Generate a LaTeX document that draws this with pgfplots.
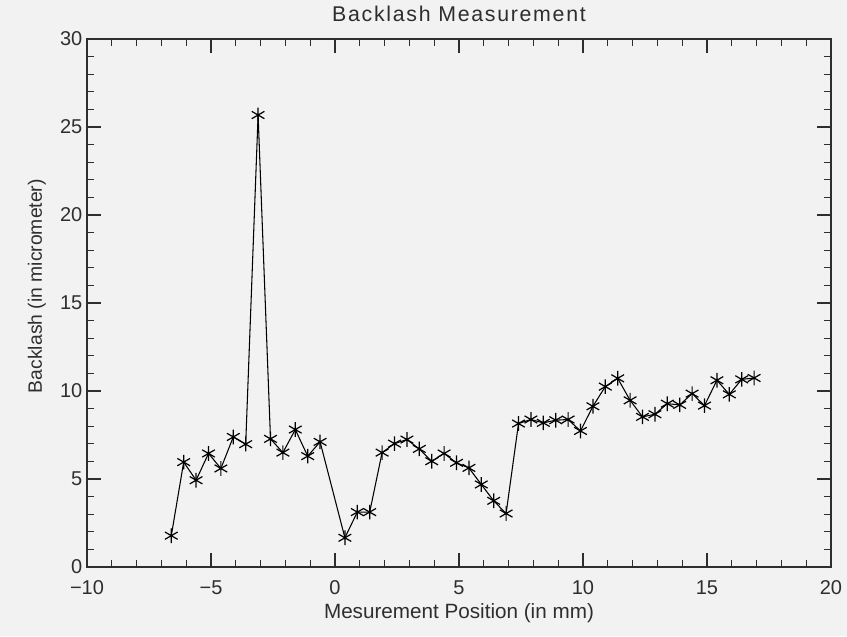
\documentclass[border=0pt]{standalone}
\usepackage{fontspec}
\setmainfont{Liberation Sans}
\newfontfamily\titlefont{Liberation Sans}[LetterSpace=8]
\usepackage{pgfplots}
\pgfplotsset{compat=1.18}
\usetikzlibrary{backgrounds}
\definecolor{bg}{HTML}{F2F2F2}
\definecolor{ink}{HTML}{2E2E2E}
\begin{document}
\begin{tikzpicture}
\begin{axis}[
  width=558pt, height=396pt, scale only axis,
  xmin=-10, xmax=20, ymin=0, ymax=30,
  xtick={-10,-5,...,20}, ytick={0,5,...,30},
  xticklabels={−10,−5,0,5,10,15,20},
  minor x tick num=4, minor y tick num=4,
  tick align=inside, major tick length=10.5pt, minor tick length=5.25pt,
  axis line style={ink, line width=1.1pt},
  every tick/.style={ink, line width=0.9pt},
  /pgf/number format/assume math mode=true,
  tick label style={font=\fontsize{15}{18}\selectfont, text=ink},
  xticklabel style={anchor=base, yshift=-20.5pt},
  title={Backlash Measurement},
  title style={at={(axis description cs:0.5,1.0189)}, anchor=base, font=\titlefont\fontsize{16}{19}\selectfont, text=ink},
  xlabel={Mesurement Position (in mm)},
  xlabel style={at={(axis description cs:0.5,-0.0966)}, anchor=base, font=\fontsize{15.5}{18}\selectfont, text=ink},
  ylabel={Backlash (in micrometer)},
  ylabel style={at={(axis description cs:-0.0672,0.532)}, anchor=center, rotate=0, font=\fontsize{14.5}{17}\selectfont, text=ink},
  clip=false,
]
\coordinate (bgbl) at (axis description cs:-0.1169,-0.1307);
\coordinate (bgtr) at (axis description cs:1.02151,1.07386);
\addplot[color=black, line width=0.8pt, mark=asterisk, mark size=5.5pt, mark options={line width=0.9pt}] table {
x y
-6.6 1.78
-6.1 5.96
-5.6 4.93
-5.1 6.45
-4.6 5.60
-4.1 7.39
-3.6 6.98
-3.1 25.68
-2.6 7.28
-2.1 6.50
-1.6 7.81
-1.1 6.30
-0.6 7.11
0.4 1.66
0.9 3.12
1.4 3.12
1.9 6.50
2.4 7.01
2.9 7.24
3.4 6.71
3.9 6.01
4.4 6.45
4.9 5.92
5.4 5.63
5.9 4.69
6.4 3.76
6.9 3.04
7.4 8.15
7.9 8.38
8.4 8.19
8.9 8.34
9.4 8.38
9.9 7.73
10.4 9.13
10.9 10.25
11.4 10.72
11.9 9.47
12.4 8.53
12.9 8.68
13.4 9.28
13.9 9.21
14.4 9.85
14.9 9.17
15.4 10.61
15.9 9.81
16.4 10.66
16.9 10.74
};
\end{axis}
\begin{pgfonlayer}{background}
\fill[bg] (bgbl) rectangle (bgtr);
\end{pgfonlayer}
\end{tikzpicture}
\end{document}
